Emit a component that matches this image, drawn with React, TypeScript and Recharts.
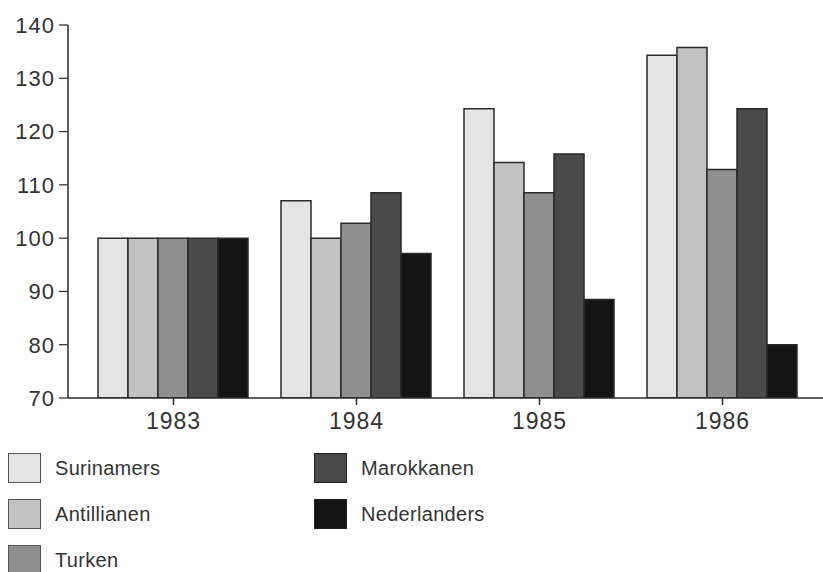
import { Bar, BarChart, XAxis, YAxis } from "recharts";

const YEARS = ["1983", "1984", "1985", "1986"];
const SERIES = ["Surinamers", "Antillianen", "Turken", "Marokkanen", "Nederlanders"];
const SURINAMERS = [100, 107, 124.3, 134.3];
const ANTILLIANEN = [100, 100, 114.2, 135.8];
const TURKEN = [100, 102.8, 108.5, 112.9];
const MAROKKANEN = [100, 108.5, 115.8, 124.3];
const NEDERLANDERS = [100, 97.1, 88.5, 80];
const Y_TICKS = [70, 80, 90, 100, 110, 120, 130, 140];

const FILLS = ["#e4e4e4", "#c2c2c2", "#8f8f8f", "#4a4a4a", "#141414"];
const INK = "#2a2a2a";
const FONT = "'Liberation Sans', Arial, Helvetica, sans-serif";

const VALUES = [SURINAMERS, ANTILLIANEN, TURKEN, MAROKKANEN, NEDERLANDERS];

const data = YEARS.map((year, i) => {
  const row: Record<string, string | number> = { year };
  SERIES.forEach((s, j) => {
    row[s] = VALUES[j][i];
  });
  return row;
});

function LegendBlock() {
  // two columns: first three series left, the rest right
  return (
    <>
      {SERIES.map((s, i) => {
        const col = i < 3 ? 0 : 1;
        const row = i < 3 ? i : i - 3;
        const left = col === 0 ? 8 : 314;
        const top = 453 + row * 46;
        return (
          <div key={s} style={{ position: "absolute", left, top, height: 30, display: "flex", alignItems: "center" }}>
            <div
              style={{
                width: 31,
                height: 28,
                background: FILLS[i],
                border: `1px solid ${col === 0 ? "#555" : "#222"}`,
              }}
            />
            <span style={{ marginLeft: 14, fontFamily: FONT, fontSize: 20, color: "#333", letterSpacing: 0.3 }}>{s}</span>
          </div>
        );
      })}
    </>
  );
}

export default function App() {
  return (
    <div style={{ position: "absolute", left: 0, top: 0, width: 823, height: 572, background: "#fff" }}>
      <BarChart
        width={823}
        height={572}
        data={data}
        margin={{ top: 25, right: 0, bottom: 114, left: 0 }}
        barCategoryGap={16}
        barGap={0}
      >
        <XAxis
          dataKey="year"
          padding={{ left: 14, right: 9 }}
          axisLine={{ stroke: INK, strokeWidth: 1.5 }}
          tickLine={{ stroke: INK, strokeWidth: 1.5 }}
          tickSize={7}
          tickMargin={8}
          tick={{ fontSize: 23, fill: "#333", fontFamily: FONT, letterSpacing: 1 }}
          height={60}
        />
        <YAxis
          width={68}
          domain={[70, 140]}
          ticks={Y_TICKS}
          allowDataOverflow
          axisLine={{ stroke: INK, strokeWidth: 1.5 }}
          tickLine={{ stroke: INK, strokeWidth: 1.2 }}
          tickSize={9}
          tickMargin={4}
          tick={{ fontSize: 22, fill: "#333", fontFamily: FONT, letterSpacing: 1 }}
        />
        {SERIES.map((s, i) => (
          <Bar key={s} dataKey={s} fill={FILLS[i]} stroke={INK} strokeWidth={1.5} isAnimationActive={false} />
        ))}
      </BarChart>
      <LegendBlock />
    </div>
  );
}
